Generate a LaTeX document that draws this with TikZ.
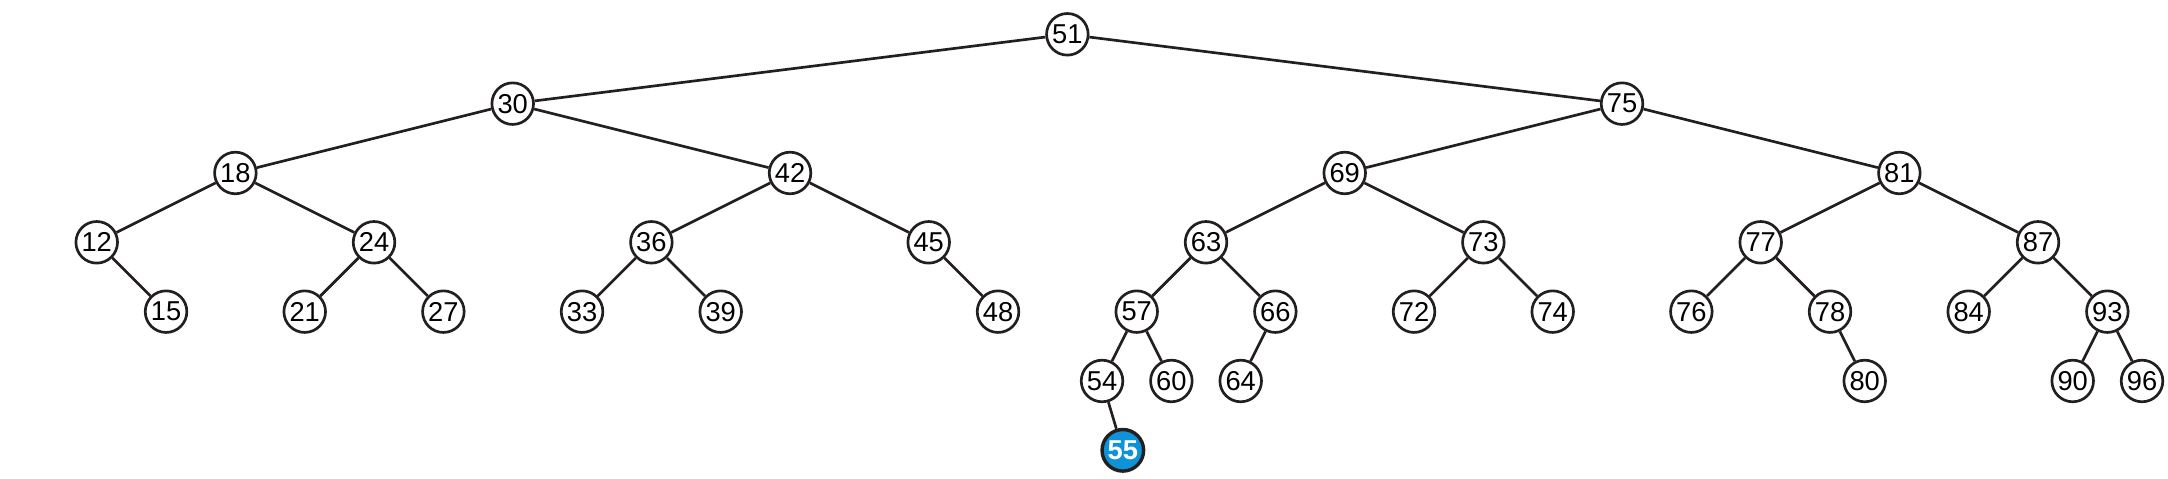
\documentclass[tikz,border=0pt]{standalone}
\usepackage{fontspec}
\setmainfont{Liberation Sans}
\usetikzlibrary{positioning}
\definecolor{ink}{RGB}{35,31,32}
\definecolor{newkey}{RGB}{14,146,216}

\begin{document}
\begin{tikzpicture}[node distance=1cm and 1cm, on grid,
  every node/.style={draw=ink, circle, line width=1.1pt, minimum size=0.6cm, inner sep=0pt, font=\fontsize{11.2}{12}\selectfont},
  inserted/.style={fill=newkey, text=white, line width=1.4pt, font=\fontsize{11.2}{12}\selectfont\bfseries}]
  \useasboundingbox (0,0) rectangle (31.27,6.895);
  % level 0 to 2
  \node (n51) at (15.395,6.4) {51};
  \node (n30) [below left=1cm and 8cm of n51] {30};
  \node (n75) [below right=1cm and 8cm of n51] {75};
  \node (n18) [below left=1cm and 4cm of n30] {18};
  \node (n42) [below right=1cm and 4cm of n30] {42};
  \node (n69) [below left=1cm and 4cm of n75] {69};
  \node (n81) [below right=1cm and 4cm of n75] {81};
  % level 3
  \node (n12) [below left=1cm and 2cm of n18] {12};
  \node (n24) [below right=1cm and 2cm of n18] {24};
  \node (n36) [below left=1cm and 2cm of n42] {36};
  \node (n45) [below right=1cm and 2cm of n42] {45};
  \node (n63) [below left=1cm and 2cm of n69] {63};
  \node (n73) [below right=1cm and 2cm of n69] {73};
  \node (n77) [below left=1cm and 2cm of n81] {77};
  \node (n87) [below right=1cm and 2cm of n81] {87};
  % level 4
  \node (n15) [below right=of n12] {15};
  \node (n21) [below left=of n24] {21};
  \node (n27) [below right=of n24] {27};
  \node (n33) [below left=of n36] {33};
  \node (n39) [below right=of n36] {39};
  \node (n48) [below right=of n45] {48};
  \node (n57) [below left=of n63] {57};
  \node (n66) [below right=of n63] {66};
  \node (n72) [below left=of n73] {72};
  \node (n74) [below right=of n73] {74};
  \node (n76) [below left=of n77] {76};
  \node (n78) [below right=of n77] {78};
  \node (n84) [below left=of n87] {84};
  \node (n93) [below right=of n87] {93};
  % level 5 and 6
  \node (n54) [below left=1cm and 0.5cm of n57] {54};
  \node (n60) [below right=1cm and 0.5cm of n57] {60};
  \node (n64) [below left=1cm and 0.5cm of n66] {64};
  \node (n80) [below right=1cm and 0.5cm of n78] {80};
  \node (n90) [below left=1cm and 0.5cm of n93] {90};
  \node (n96) [below right=1cm and 0.5cm of n93] {96};
  \node (n55) [inserted, below right=1cm and 0.3cm of n54] {55};
  % edges
  \draw[ink, line width=1.1pt] (n51) -- (n30);
  \draw[ink, line width=1.1pt] (n51) -- (n75);
  \draw[ink, line width=1.1pt] (n30) -- (n18);
  \draw[ink, line width=1.1pt] (n30) -- (n42);
  \draw[ink, line width=1.1pt] (n75) -- (n69);
  \draw[ink, line width=1.1pt] (n75) -- (n81);
  \draw[ink, line width=1.1pt] (n18) -- (n12);
  \draw[ink, line width=1.1pt] (n18) -- (n24);
  \draw[ink, line width=1.1pt] (n42) -- (n36);
  \draw[ink, line width=1.1pt] (n42) -- (n45);
  \draw[ink, line width=1.1pt] (n69) -- (n63);
  \draw[ink, line width=1.1pt] (n69) -- (n73);
  \draw[ink, line width=1.1pt] (n81) -- (n77);
  \draw[ink, line width=1.1pt] (n81) -- (n87);
  \draw[ink, line width=1.1pt] (n12) -- (n15);
  \draw[ink, line width=1.1pt] (n24) -- (n21);
  \draw[ink, line width=1.1pt] (n24) -- (n27);
  \draw[ink, line width=1.1pt] (n36) -- (n33);
  \draw[ink, line width=1.1pt] (n36) -- (n39);
  \draw[ink, line width=1.1pt] (n45) -- (n48);
  \draw[ink, line width=1.1pt] (n63) -- (n57);
  \draw[ink, line width=1.1pt] (n63) -- (n66);
  \draw[ink, line width=1.1pt] (n73) -- (n72);
  \draw[ink, line width=1.1pt] (n73) -- (n74);
  \draw[ink, line width=1.1pt] (n77) -- (n76);
  \draw[ink, line width=1.1pt] (n77) -- (n78);
  \draw[ink, line width=1.1pt] (n87) -- (n84);
  \draw[ink, line width=1.1pt] (n87) -- (n93);
  \draw[ink, line width=1.1pt] (n57) -- (n54);
  \draw[ink, line width=1.1pt] (n57) -- (n60);
  \draw[ink, line width=1.1pt] (n66) -- (n64);
  \draw[ink, line width=1.1pt] (n78) -- (n80);
  \draw[ink, line width=1.1pt] (n93) -- (n90);
  \draw[ink, line width=1.1pt] (n93) -- (n96);
  \draw[ink, line width=1.1pt] (n54) -- (n55);
\end{tikzpicture}
\end{document}
